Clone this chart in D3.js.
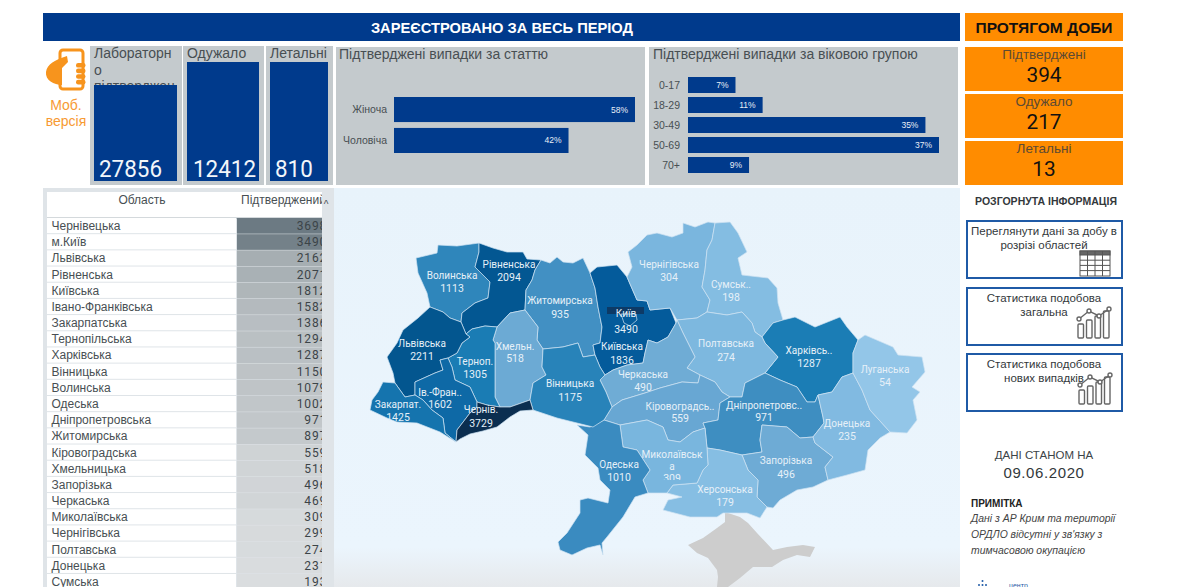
<!DOCTYPE html>
<html>
<head>
<meta charset="utf-8">
<title>COVID-19 Україна</title>
<script src="https://cdn.jsdelivr.net/npm/d3@7"></script>
<style>
  html, body { margin: 0; padding: 0; background: #fff; overflow: hidden; }
  svg { display: block; font-family: "Liberation Sans", Arial, sans-serif; }
  .num { font-family: Roboto, sans-serif; }
</style>
</head>
<body>
<svg id="chart" width="1200" height="587"></svg>
<script>
// KPI cards
const totalLabels = ["Лабораторно підтверджено", "Одужало", "Летальні"];
const totalValues = [27856, 12412, 810];
const dayLabels = ["Підтверджені", "Одужало", "Летальні"];
const dayValues = [394, 217, 13];

// Bars
const genderNames = ["Жіноча", "Чоловіча"];
const genderShares = [58, 42];
const ageNames = ["0-17", "18-29", "30-49", "50-69", "70+"];
const ageShares = [7, 11, 35, 37, 9];

// Table
const tableNames = ["Чернівецька", "м.Київ", "Львівська", "Рівненська", "Київська", "Івано-Франківська",
  "Закарпатська", "Тернопільська", "Харківська", "Вінницька", "Волинська", "Одеська", "Дніпропетровська",
  "Житомирська", "Кіровоградська", "Хмельницька", "Запорізька", "Черкаська", "Миколаївська", "Чернігівська",
  "Полтавська", "Донецька", "Сумська"];
const tableValues = [3698, 3490, 2162, 2071, 1812, 1582, 1386, 1294, 1287, 1150, 1079, 1002, 971, 897,
  559, 518, 496, 469, 309, 299, 274, 231, 193];

// Map values, the map has its own numbers and they differ from the table
const mapNames = ["Волинська", "Рівненська", "Житомирська", "Київська", "Чернігівська", "Сумська", "Харківська",
  "Полтавська", "Черкаська", "Кіровоградська", "Дніпропетровська", "Запорізька", "Донецька", "Луганська",
  "Херсонська", "Миколаївська", "Одеська", "Хмельницька", "Вінницька", "Тернопільська", "Львівська",
  "Івано-Франківська", "Закарпатська", "Чернівецька"];
const mapValues = [1113, 2094, 935, 1836, 304, 198, 1287, 274, 490, 559, 971, 496, 235, 54, 179, 309, 1010,
  518, 1175, 1305, 2211, 1602, 1425, 3729];
const cityValue = 3490;

// Region outlines
const outlines = {
  "Волинська": [[416,258],[437,253],[438,245],[457,246],[479,243],[479,252],[475,267],[490,282],[488,298],[475,303],[462,313],[461,322],[450,318],[443,312],[430,307],[427,293],[418,273]],
  "Рівненська": [[479,243],[493,248],[507,252],[523,252],[527,259],[541,260],[535,270],[532,280],[526,290],[525,310],[510,313],[497,327],[485,326],[472,329],[466,334],[461,322],[462,313],[475,303],[488,298],[490,282],[475,267],[479,252]],
  "Житомирська": [[541,260],[550,263],[557,257],[563,262],[573,263],[583,258],[590,273],[595,288],[598,307],[602,327],[600,343],[593,345],[595,355],[583,357],[578,343],[563,347],[543,349],[537,340],[538,327],[525,310],[526,290],[532,280],[535,270]],
  "Київська": [[590,273],[597,267],[617,265],[627,277],[637,300],[647,301],[650,310],[670,308],[676,323],[668,337],[657,343],[648,340],[645,353],[643,363],[627,365],[613,370],[605,375],[600,367],[595,355],[593,345],[600,343],[602,327],[598,307],[595,288]],
  "Чернігівська": [[647,235],[657,233],[672,237],[683,233],[683,223],[695,227],[708,222],[715,223],[712,240],[707,250],[705,270],[702,287],[710,300],[707,312],[697,318],[677,320],[670,308],[650,310],[647,301],[637,300],[627,277],[632,267],[628,252],[637,245]],
  "Сумська": [[715,223],[730,222],[738,233],[747,252],[738,258],[742,275],[768,278],[777,288],[778,303],[783,320],[773,323],[762,337],[755,332],[752,323],[742,312],[727,315],[707,312],[710,300],[702,287],[705,270],[707,250],[712,240]],
  "Харківська": [[762,337],[773,323],[783,320],[795,317],[815,327],[840,317],[847,327],[858,340],[853,353],[853,373],[842,377],[832,392],[818,395],[815,402],[807,402],[797,387],[780,380],[765,373],[778,357],[765,343]],
  "Полтавська": [[677,320],[697,318],[707,312],[727,315],[742,312],[752,323],[755,332],[762,337],[765,343],[778,357],[765,373],[755,378],[745,383],[742,397],[730,397],[722,392],[715,382],[700,375],[687,368],[695,357],[683,333]],
  "Черкаська": [[605,375],[613,370],[627,365],[643,363],[645,353],[648,340],[657,343],[668,337],[676,323],[677,320],[683,333],[695,357],[687,368],[700,375],[698,383],[682,382],[660,388],[645,393],[622,400],[612,407],[606,392],[600,380]],
  "Кіровоградська": [[612,407],[622,400],[645,393],[660,388],[682,382],[698,383],[700,375],[715,382],[722,392],[730,397],[720,403],[718,420],[703,423],[705,428],[693,432],[680,442],[668,440],[663,427],[647,420],[620,425],[604,420]],
  "Дніпропетровська": [[720,403],[730,397],[742,397],[745,383],[755,378],[765,373],[780,380],[797,387],[807,402],[815,402],[818,395],[823,417],[824,423],[813,437],[800,438],[787,427],[762,425],[760,440],[762,452],[742,455],[720,450],[707,448],[705,428],[703,423],[718,420]],
  "Запорізька": [[762,425],[787,427],[800,438],[813,437],[815,443],[833,457],[825,467],[828,480],[813,487],[797,490],[780,500],[773,508],[767,507],[757,497],[758,480],[748,470],[742,455],[762,452],[760,440]],
  "Донецька": [[818,395],[832,392],[842,377],[853,373],[862,390],[870,410],[890,432],[880,438],[868,450],[865,470],[847,475],[828,480],[825,467],[833,457],[815,443],[813,437],[824,423],[823,417]],
  "Луганська": [[853,373],[853,353],[858,340],[865,335],[893,347],[898,355],[922,357],[925,372],[912,387],[920,392],[913,400],[917,420],[907,433],[890,432],[870,410],[862,390]],
  "Херсонська": [[707,448],[720,450],[742,455],[748,470],[758,480],[757,497],[767,507],[760,518],[747,513],[723,513],[717,517],[690,517],[663,510],[668,500],[682,497],[667,493],[673,485],[697,483],[703,470],[708,465]],
  "Миколаївська": [[620,425],[647,420],[663,427],[668,440],[680,442],[693,432],[705,428],[707,448],[708,465],[703,470],[697,483],[673,485],[667,493],[648,493],[643,480],[650,470],[637,450],[623,447]],
  "Одеська": [[577,425],[590,427],[604,420],[620,425],[623,447],[637,450],[650,470],[643,480],[648,493],[635,497],[623,517],[607,537],[602,543],[603,555],[600,545],[587,548],[572,555],[560,550],[558,542],[567,533],[580,513],[580,500],[588,498],[608,503],[610,490],[600,480],[598,468],[585,455],[588,435]],
  "Хмельницька": [[510,313],[525,310],[538,327],[537,340],[543,349],[542,367],[546,375],[533,383],[530,400],[510,407],[500,407],[495,397],[495,377],[495,343],[493,340],[497,327]],
  "Вінницька": [[543,349],[563,347],[578,343],[583,357],[595,355],[600,367],[605,375],[600,380],[606,392],[612,407],[604,420],[593,427],[577,423],[557,418],[533,410],[530,400],[533,383],[546,375],[542,367]],
  "Тернопільська": [[472,329],[485,326],[497,327],[493,340],[495,343],[495,377],[495,397],[500,407],[487,405],[477,402],[470,387],[455,380],[452,367],[448,358],[457,353],[462,343],[470,337],[466,334]],
  "Львівська": [[430,307],[443,312],[450,318],[461,322],[466,334],[470,337],[462,343],[457,353],[448,358],[440,360],[443,370],[435,373],[415,382],[415,395],[405,397],[395,383],[393,373],[387,357],[397,343],[403,330],[418,318]],
  "Івано-Франківська": [[440,360],[448,358],[452,367],[455,380],[470,387],[477,402],[477,407],[470,413],[457,430],[456,442],[445,433],[443,418],[432,410],[423,400],[415,395],[415,382],[435,373],[443,370]],
  "Закарпатська": [[383,382],[395,383],[405,397],[415,395],[423,400],[432,410],[443,418],[445,433],[456,442],[440,432],[417,423],[397,422],[387,418],[370,410],[372,400],[378,392]],
  "Чернівецька": [[477,402],[487,405],[500,407],[510,407],[530,400],[533,410],[520,411],[510,417],[497,427],[483,431],[470,434],[460,439],[456,442],[457,430],[470,413],[477,407]]
};
const cityOutline = [[621,314],[636,314],[637,320],[630,326],[624,323]];
const crimeaOutline = [[725,512],[740,517],[748,523],[757,533],[773,550],[787,547],[803,545],[815,547],[810,557],[797,555],[783,560],[772,567],[753,567],[740,578],[728,587],[717,587],[718,577],[717,570],[708,558],[697,553],[688,545],[703,538],[717,528],[725,522]];

// Label placing on the map: text lines, centre x, baseline of each line
const mapLabels = {
  "Волинська": { lines: ["Волинська"], x: 452, y: [279], vy: 292 },
  "Рівненська": { lines: ["Рівненська"], x: 509, y: [268], vy: 281 },
  "Житомирська": { lines: ["Житомирська"], x: 560, y: [304], vy: 318 },
  "Київська": { lines: ["Київська"], x: 622, y: [350], vy: 364 },
  "Чернігівська": { lines: ["Чернігівська"], x: 669, y: [268], vy: 281 },
  "Сумська": { lines: ["Сумськ.."], x: 731, y: [288], vy: 301 },
  "Харківська": { lines: ["Харківсь.."], x: 809, y: [354], vy: 367 },
  "Полтавська": { lines: ["Полтавська"], x: 726, y: [347], vy: 361 },
  "Черкаська": { lines: ["Черкаська"], x: 643, y: [378], vy: 391 },
  "Кіровоградська": { lines: ["Кіровоградсь.."], x: 680, y: [410], vy: 422 },
  "Дніпропетровська": { lines: ["Дніпропетровс.."], x: 764, y: [409], vy: 421 },
  "Запорізька": { lines: ["Запорізька"], x: 786, y: [464], vy: 478 },
  "Донецька": { lines: ["Донецька"], x: 847, y: [427], vy: 440 },
  "Луганська": { lines: ["Луганська"], x: 885, y: [373], vy: 386 },
  "Херсонська": { lines: ["Херсонська"], x: 725, y: [493], vy: 506 },
  "Миколаївська": { lines: ["Миколаївськ", "а"], x: 672, y: [458, 470], vy: 482 },
  "Одеська": { lines: ["Одеська"], x: 619, y: [468], vy: 481 },
  "Хмельницька": { lines: ["Хмельн."], x: 515, y: [350], vy: 362 },
  "Вінницька": { lines: ["Вінницька"], x: 570, y: [387], vy: 401 },
  "Тернопільська": { lines: ["Терноп."], x: 475, y: [365], vy: 378 },
  "Львівська": { lines: ["Львівська"], x: 422, y: [347], vy: 360 },
  "Івано-Франківська": { lines: ["Ів.-Фран.."], x: 440, y: [396], vy: 408 },
  "Закарпатська": { lines: ["Закарпат."], x: 398, y: [408], vy: 421 },
  "Чернівецька": { lines: ["Чернів."], x: 481, y: [413], vy: 427 }
};

const navy = "#003a8c";
const orange = "#ff8c00";
const panelGrey = "#c4cacd";
const darkText = "#484f53";

const svg = d3.select("#chart");
const defs = svg.append("defs");

const mapFade = defs.append("linearGradient").attr("id", "mapFade").attr("x2", 0).attr("y2", 1);
mapFade.append("stop").attr("offset", "0").attr("stop-color", "#e8f3fb");
mapFade.append("stop").attr("offset", "0.9").attr("stop-color", "#ebf5fd");
mapFade.append("stop").attr("offset", "1").attr("stop-color", "#e6e9ec");

const clipRect = (id, x, y, width, height) =>
  defs.append("clipPath").attr("id", id).append("rect")
    .attr("x", x).attr("y", y).attr("width", width).attr("height", height);
clipRect("valueClip", 237, 188, 85, 399);
clipRect("headClip", 237, 190, 85, 26);
clipRect("mykClip", 640, 470, 70, 10);

const addText = (parent, txt, x, y, size, fill, anchor = "start") =>
  parent.append("text").attr("x", x).attr("y", y).attr("font-size", size)
    .attr("fill", fill).attr("text-anchor", anchor).text(txt);

// the source numbers use a condensed face, none is installed so squeeze the digits
const squeeze = (sel, perDigit) =>
  sel.attr("lengthAdjust", "spacingAndGlyphs")
    .attr("textLength", function () { return this.textContent.length * perDigit; });

// ---- top banners ----
svg.append("rect").attr("x", 43).attr("y", 13).attr("width", 917).attr("height", 28).attr("fill", navy);
addText(svg, "ЗАРЕЄСТРОВАНО ЗА ВЕСЬ ПЕРІОД", 502, 33, 14.7, "#fff", "middle").attr("font-weight", "bold");
svg.append("rect").attr("x", 965).attr("y", 13).attr("width", 158).attr("height", 28).attr("fill", orange);
addText(svg, "ПРОТЯГОМ ДОБИ", 1044, 33, 15.5, "#111", "middle").attr("font-weight", "bold");

// ---- mobile icon ----
const phone = svg.append("g").attr("fill", "#f7941d");
phone.append("rect").attr("x", 60).attr("y", 50).attr("width", 23).attr("height", 39).attr("rx", 3)
  .attr("fill", "#fff").attr("stroke", "#f7941d").attr("stroke-width", 3);
phone.append("path").attr("d", "M46,72 C47,64 55,60 67,56 L68,62 L62,68 L62,85 C54,85 45,80 46,72 Z");
d3.range(4).forEach((i) => {
  phone.append("rect").attr("x", 76).attr("y", 63 + i * 5.6).attr("width", 9.5).attr("height", 4.6).attr("rx", 2.2);
});
addText(svg, "Моб.", 66, 110, 14, "#f79a33", "middle");
addText(svg, "версія", 66, 126, 14, "#f79a33", "middle");

// ---- total cards ----
const cardBoxes = [
  { x: 90, w: 92, barX: 94, barW: 83, barY: 85, numX: 99 },
  { x: 183, w: 81, barX: 187, barW: 72, barY: 62, numX: 193 },
  { x: 266, w: 67, barX: 270, barW: 58, barY: 62, numX: 275 }
];
const cards = svg.append("g").selectAll("g").data(totalValues).join("g");
cards.append("rect").attr("x", (d, i) => cardBoxes[i].x).attr("y", 46)
  .attr("width", (d, i) => cardBoxes[i].w).attr("height", 139).attr("fill", panelGrey);
cards.each(function (d, i) {
  const g = d3.select(this);
  const lines = i === 0 ? ["Лабораторн", "о", "підтверджен"] : [totalLabels[i]];
  lines.forEach((l, k) => addText(g, l, cardBoxes[i].x + 4, 58 + k * 16.5, 14, darkText));
});
cards.append("rect").attr("x", (d, i) => cardBoxes[i].barX).attr("y", (d, i) => cardBoxes[i].barY)
  .attr("width", (d, i) => cardBoxes[i].barW).attr("height", (d, i) => 181 - cardBoxes[i].barY).attr("fill", navy);
squeeze(cards.append("text").attr("class", "num").attr("x", (d, i) => cardBoxes[i].numX).attr("y", 177)
  .attr("font-size", 23).attr("fill", "#f2f6fa").text((d) => d), 12.6);

// ---- gender panel ----
svg.append("rect").attr("x", 336).attr("y", 47).attr("width", 309).attr("height", 138).attr("fill", panelGrey);
addText(svg, "Підтверджені випадки за статтю", 339, 59, 14, darkText);

const genderX = d3.scaleLinear().domain([0, 58]).range([394, 635]);
const genderY = d3.scaleBand().domain(genderNames).range([97, 153]).paddingInner(0.19);
svg.append("g").selectAll("rect").data(genderNames).join("rect")
  .attr("x", genderX(0)).attr("y", (d) => genderY(d))
  .attr("width", (d, i) => genderX(genderShares[i]) - genderX(0)).attr("height", genderY.bandwidth())
  .attr("fill", navy);
svg.append("g").selectAll("text").data(genderNames).join("text")
  .attr("x", 387).attr("y", (d) => genderY(d) + genderY.bandwidth() / 2 + 3.5)
  .attr("text-anchor", "end").attr("font-size", 10.5).attr("fill", darkText).text((d) => d);
svg.append("g").selectAll("text").data(genderShares).join("text")
  .attr("x", (d) => genderX(d) - 7).attr("y", (d, i) => genderY(genderNames[i]) + genderY.bandwidth() / 2 + 3)
  .attr("text-anchor", "end").attr("font-size", 8.5).attr("fill", "#e8eef6").text((d) => d + "%");

// ---- age panel ----
svg.append("rect").attr("x", 649).attr("y", 47).attr("width", 309).attr("height", 138).attr("fill", panelGrey);
addText(svg, "Підтверджені випадки за віковою групою", 653, 59, 14, darkText);

const ageX = d3.scaleLinear().domain([0, 37]).range([688, 939]);
const ageY = d3.scaleBand().domain(ageNames).range([75, 175]).paddingInner(0.2).paddingOuter(0.1);
svg.append("g").selectAll("rect").data(ageNames).join("rect")
  .attr("x", ageX(0)).attr("y", (d) => ageY(d))
  .attr("width", (d, i) => ageX(ageShares[i]) - ageX(0)).attr("height", ageY.bandwidth())
  .attr("fill", navy);
svg.append("g").selectAll("text").data(ageNames).join("text")
  .attr("x", 680).attr("y", (d) => ageY(d) + ageY.bandwidth() / 2 + 3.5)
  .attr("text-anchor", "end").attr("font-size", 10.5).attr("fill", darkText).text((d) => d);
svg.append("g").selectAll("text").data(ageShares).join("text")
  .attr("x", (d) => ageX(d) - 7).attr("y", (d, i) => ageY(ageNames[i]) + ageY.bandwidth() / 2 + 3)
  .attr("text-anchor", "end").attr("font-size", 8.5).attr("fill", "#e8eef6").text((d) => d + "%");

// ---- table ----
svg.append("rect").attr("x", 43).attr("y", 188).attr("width", 291).attr("height", 399).attr("fill", "#dfe4e8");
svg.append("rect").attr("x", 47).attr("y", 192).attr("width", 275).attr("height", 26).attr("fill", "#fff");
svg.append("rect").attr("x", 47).attr("y", 217.5).attr("width", 275).attr("height", 1).attr("fill", "#a9b3ba");
addText(svg, "Область", 142, 204, 12, darkText, "middle");
addText(svg, "Підтверджений", 241, 204, 12, darkText).attr("clip-path", "url(#headClip)");
addText(svg, "^", 326, 208, 10, darkText, "middle");

const rowY = d3.scaleBand().domain(tableNames).range([218, 218 + 16.18 * tableNames.length]);
const cellFill = d3.scaleLinear().domain([193, 1000, 2100, 3698])
  .range(["#dadddf", "#c1c6c9", "#a8b0b4", "#6c7a83"]);

const rows = svg.append("g").selectAll("g").data(tableNames).join("g");
rows.append("rect").attr("x", 47).attr("y", (d) => rowY(d)).attr("width", 189)
  .attr("height", rowY.bandwidth() - 1).attr("fill", "#fff");
rows.append("rect").attr("x", 237).attr("y", (d) => rowY(d)).attr("width", 85)
  .attr("height", rowY.bandwidth() - 0.5).attr("fill", (d, i) => cellFill(tableValues[i]));
rows.append("text").attr("x", 51.5).attr("y", (d) => rowY(d) + 12).attr("font-size", 12)
  .attr("fill", darkText).text((d) => d);
rows.append("text").attr("class", "num").attr("x", 327).attr("y", (d) => rowY(d) + 12)
  .attr("text-anchor", "end").attr("font-size", 12).attr("fill", "#3c4448")
  .attr("clip-path", "url(#valueClip)").style("letter-spacing", "0.8px").text((d, i) => tableValues[i]);

// ---- map ----
svg.append("rect").attr("x", 334).attr("y", 188).attr("width", 626).attr("height", 399).attr("fill", "url(#mapFade)");

const mapFill = d3.scaleLinear().domain([54, 300, 500, 1000, 1300, 1836, 2200, 3729])
  .range(["#93c6e8", "#7ab6de", "#6eabd5", "#3b8cc0", "#1a7cb4", "#045b9b", "#03568f", "#0b2e50"]);
const ringPath = d3.line().curve(d3.curveLinear);

svg.append("path").attr("d", ringPath(crimeaOutline) + "Z").attr("fill", "#cdcdcd");

svg.append("g").selectAll("path").data(mapNames).join("path")
  .attr("d", (d) => ringPath(outlines[d]) + "Z")
  .attr("fill", (d, i) => mapFill(mapValues[i]))
  .attr("stroke", "#cfe3f2").attr("stroke-width", 0.7).attr("stroke-linejoin", "round");

// city tag and outline, the city itself is only drawn as a line
svg.append("rect").attr("x", 607).attr("y", 307).attr("width", 37).attr("height", 7).attr("fill", "#0d3a66");
svg.append("path").attr("d", ringPath(cityOutline) + "Z").attr("fill", "none")
  .attr("stroke", "#cfe3f2").attr("stroke-width", 0.7);

const labelFill = "#e6f0f8";
const labels = svg.append("g").attr("font-family", "Roboto, sans-serif").selectAll("g").data(mapNames).join("g");
labels.each(function (d, i) {
  const g = d3.select(this);
  const spot = mapLabels[d];
  spot.lines.forEach((l, k) => addText(g, l, spot.x, spot.y[k], 10, labelFill, "middle"));
  const v = squeeze(addText(g, mapValues[i], spot.x, spot.vy, 11.5, labelFill, "middle").attr("class", "num"), 5.9);
  if (d === "Миколаївська") v.attr("clip-path", "url(#mykClip)");
});
const cityLabel = svg.append("g").attr("font-family", "Roboto, sans-serif");
addText(cityLabel, "Київ", 626, 317, 10, labelFill, "middle");
squeeze(addText(cityLabel, cityValue, 626, 333, 11.5, labelFill, "middle").attr("class", "num"), 5.9);

// ---- day cards ----
const dayY = d3.scaleBand().domain(dayLabels).range([47, 185]).paddingInner(0.064);
const dayCards = svg.append("g").selectAll("g").data(dayLabels).join("g");
dayCards.append("rect").attr("x", 965).attr("y", (d) => dayY(d)).attr("width", 158)
  .attr("height", dayY.bandwidth()).attr("fill", orange);
dayCards.append("text").attr("x", 1044).attr("y", (d) => dayY(d) + 12).attr("text-anchor", "middle")
  .attr("font-size", 13.5).attr("fill", "#5c4a33").text((d) => d);
squeeze(dayCards.append("text").attr("class", "num").attr("x", 1044).attr("y", (d) => dayY(d) + 35)
  .attr("text-anchor", "middle").attr("font-size", 21).attr("fill", "#111")
  .text((d, i) => dayValues[i]), 11.7);

// ---- right column ----
addText(svg, "РОЗГОРНУТА ІНФОРМАЦІЯ", 1046, 205, 10.5, "#33383b", "middle").attr("font-weight", "bold");

const buttonLines = [
  ["Переглянути дані за добу в", "розрізі областей"],
  ["Статистика подобова", "загальна"],
  ["Статистика подобова", "нових випадків"]
];
const buttonTops = [221, 288, 354];
const buttonHeights = [57, 57, 57];
const buttons = svg.append("g").selectAll("g").data(buttonLines).join("g");
buttons.append("rect").attr("x", 967).attr("y", (d, i) => buttonTops[i]).attr("width", 155)
  .attr("height", (d, i) => buttonHeights[i]).attr("fill", "#fff").attr("stroke", "#1f5aa6").attr("stroke-width", 2);
buttons.each(function (d, i) {
  d.forEach((l, k) => addText(d3.select(this), l, 1044, buttonTops[i] + 14 + k * 14, 11.5, "#33383b", "middle"));
});

// table icon
const tableIcon = svg.append("g").attr("transform", "translate(1080,251)")
  .attr("fill", "none").attr("stroke", "#555").attr("stroke-width", 1);
tableIcon.append("rect").attr("width", 30).attr("height", 25);
tableIcon.append("rect").attr("width", 30).attr("height", 4).attr("fill", "#666");
d3.range(1, 4).forEach((i) => tableIcon.append("line").attr("x1", i * 7.5).attr("x2", i * 7.5).attr("y2", 25));
d3.range(1, 4).forEach((i) => tableIcon.append("line").attr("y1", 4 + i * 5.2).attr("y2", 4 + i * 5.2).attr("x2", 30));

// small bar and line icons
const iconBars = [14, 18, 22, 27];
[[1077, 308], [1078, 374]].forEach(([x, y]) => {
  const icon = svg.append("g").attr("transform", `translate(${x},${y})`)
    .attr("fill", "none").attr("stroke", "#666").attr("stroke-width", 1.4);
  iconBars.forEach((h, i) => icon.append("rect").attr("x", 1 + i * 8.5).attr("y", 30 - h)
    .attr("width", 5.5).attr("height", h).attr("rx", 1));
  icon.append("path").attr("d", "M2,11 L12,3 L22,8 L32,1");
  [[2, 11], [12, 3], [22, 8], [32, 1]].forEach(([cx, cy]) =>
    icon.append("circle").attr("cx", cx).attr("cy", cy).attr("r", 2).attr("fill", "#fff"));
});

addText(svg, "ДАНІ СТАНОМ НА", 1044, 459, 11.5, "#3c4448", "middle");
addText(svg, "09.06.2020", 1044, 478, 15, "#33383b", "middle").style("letter-spacing", "0.6px");
addText(svg, "ПРИМІТКА", 971, 507, 10, "#222", "start").attr("font-weight", "bold");
["Дані з АР Крим та території", "ОРДЛО відсутні у зв'язку з", "тимчасовою окупацією"].forEach((l, i) => {
  addText(svg, l, 971, 522 + i * 16, 10.4, "#444", "start").attr("font-style", "italic");
});

// logo, cut by the bottom of the window
const logoDots = svg.append("g").attr("fill", "#1f5aa6");
[[982.5, 581], [979, 585], [982.5, 585], [986, 585]].forEach(([cx, cy]) =>
  logoDots.append("circle").attr("cx", cx).attr("cy", cy).attr("r", 1));
addText(svg, "центр", 1009, 588, 7, "#1f5aa6", "start");
</script>
</body>
</html>
